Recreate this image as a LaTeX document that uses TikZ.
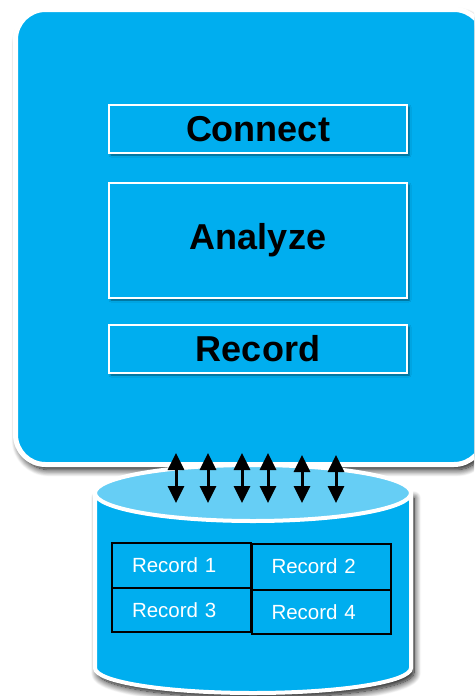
\documentclass[tikz,border=0pt]{standalone}
\usepackage{fontspec}
\setmainfont{Liberation Sans}
\usetikzlibrary{arrows.meta,shadows.blur,shapes.geometric}
\definecolor{mainblue}{RGB}{0,174,239}
\definecolor{lightblue}{RGB}{102,206,245}
\tikzset{
  bigshadow/.style={blur shadow={shadow xshift=3pt,shadow yshift=-5pt,shadow blur radius=7pt,shadow blur steps=12,shadow opacity=100}},
  smallshadow/.style={blur shadow={shadow xshift=2pt,shadow yshift=-2pt,shadow blur radius=2pt,shadow opacity=50}},
  ibox/.style={draw=white,line width=1.5pt,fill=mainblue,smallshadow,minimum width=298pt,
    font=\bfseries\fontsize{36}{40}\selectfont,text=black,inner sep=0pt},
  cell/.style={draw=black,line width=2pt,fill=mainblue,minimum height=45pt,text width=99pt,
    inner xsep=20pt,inner ysep=0pt,align=left,text=white,font=\fontsize{20.5}{24}\selectfont},
  dbl/.style={{Triangle[width=16pt,length=17pt]}-{Triangle[width=16pt,length=17pt]},line width=3pt,black},
}
\begin{document}
\begin{tikzpicture}[x=1pt,y=-1pt]
\useasboundingbox (0,0) rectangle (474,696);
\clip (0,0) rectangle (474,696);
% main container
\path[fill=mainblue,draw=white,line width=5pt,rounded corners=30pt,bigshadow]
  (15.5,9.5) rectangle (484,464.5);
% stages
\node[ibox,minimum height=48pt] (connect) at (258,129) {Connect};
\node[ibox,minimum height=115pt] (analyze) at (258,240.5) {Analyze};
\node[ibox,minimum height=48pt] (record) at (258,349) {Record};
% database cylinder
\path[fill=mainblue,draw=white,line width=4pt,bigshadow]
  (95,493) -- (95,668) arc (180:0:158 and 25) -- (411,493) -- cycle;
\node[draw=white,line width=4pt,fill=lightblue,ellipse,minimum width=316pt,minimum height=56pt,inner sep=0pt] (dbtop) at (253,493) {};
% records
\node[cell] (r1) at (181.5,565.5) {Record 1};
\node[cell,minimum height=46pt] (r2) at (321,566.5) {Record 2};
\node[cell,minimum height=44pt] (r3) at (181.5,610) {Record 3};
\node[cell,minimum height=44pt] (r4) at (321,612) {Record 4};
% data arrows
\foreach \i/\x/\t in {1/176/453,2/208/453,3/242/453,4/268/453,5/302/455,6/336/455}{
  \coordinate (a\i) at (\x,\t);
  \coordinate (b\i) at (\x,503);
  \draw[dbl] (a\i) -- (b\i);
}
\end{tikzpicture}
\end{document}
